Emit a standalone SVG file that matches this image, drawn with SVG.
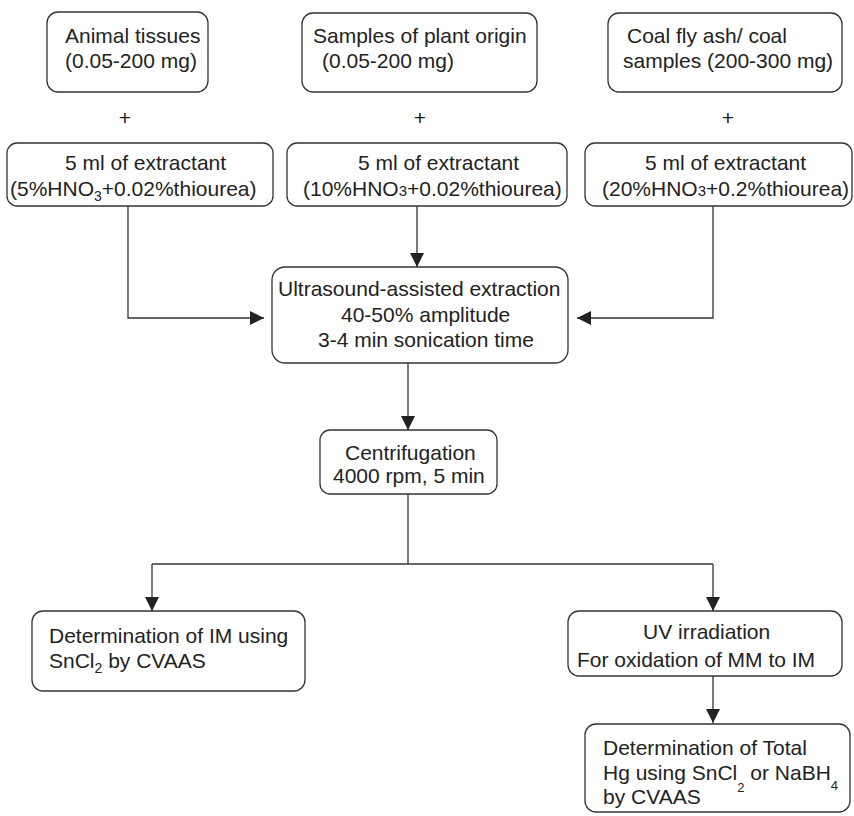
<svg xmlns="http://www.w3.org/2000/svg" width="854" height="816" viewBox="0 0 854 816">
<style>
.box{fill:#fff;stroke:#333;stroke-width:1.3}
.t{font-family:"Liberation Sans",Arial,sans-serif;font-size:21px;fill:#222}
.c{fill:none;stroke:#333;stroke-width:1.3}
</style>
<defs>
<marker id="ah" markerUnits="userSpaceOnUse" markerWidth="14" markerHeight="14" refX="14" refY="7" orient="auto">
<path d="M0,0 L14,7 L0,14 z" fill="#222"/>
</marker>
</defs>
<rect width="854" height="816" fill="#fff"/>
<g id="connectors">
<polyline class="c" points="128,206 128,318 264,318" marker-end="url(#ah)"/>
<line class="c" x1="417" y1="206" x2="417" y2="267" marker-end="url(#ah)"/>
<polyline class="c" points="713,206 713,318 577,318" marker-end="url(#ah)"/>
<line class="c" x1="408" y1="363" x2="408" y2="430" marker-end="url(#ah)"/>
<line class="c" x1="408" y1="494" x2="408" y2="564"/>
<polyline class="c" points="152,564 713,564"/>
<line class="c" x1="152" y1="564" x2="152" y2="611" marker-end="url(#ah)"/>
<line class="c" x1="713" y1="564" x2="713" y2="611" marker-end="url(#ah)"/>
<line class="c" x1="713" y1="676" x2="713" y2="723" marker-end="url(#ah)"/>
</g>
<g id="animal">
<rect class="box" x="47" y="12" width="161" height="80" rx="11"/>
<text class="t" x="65" y="43">Animal tissues</text>
<text class="t" x="65" y="68">(0.05-200 mg)</text>
</g>
<g id="plant">
<rect class="box" x="302" y="13" width="235" height="79" rx="11"/>
<text class="t" x="313" y="43">Samples of plant origin</text>
<text class="t" x="322" y="68">(0.05-200 mg)</text>
</g>
<g id="coal">
<rect class="box" x="608" y="13" width="234" height="79" rx="11"/>
<text class="t" x="627" y="43">Coal fly ash/ coal</text>
<text class="t" x="623" y="68">samples (200-300 mg)</text>
</g>
<g id="plus">
<text class="t" x="125" y="125" text-anchor="middle">+</text>
<text class="t" x="420" y="125" text-anchor="middle">+</text>
<text class="t" x="728" y="125" text-anchor="middle">+</text>
</g>
<g id="ext1">
<rect class="box" x="7" y="143" width="266" height="63" rx="10"/>
<text class="t" x="65" y="170">5 ml of extractant</text>
<text class="t" x="10" y="196">(5%HNO<tspan font-size="14" dy="5">3</tspan><tspan dy="-5">+0.02%thiourea)</tspan></text>
</g>
<g id="ext2">
<rect class="box" x="287" y="143" width="280" height="63" rx="10"/>
<text class="t" x="358" y="170">5 ml of extractant</text>
<text class="t" x="303" y="196">(10%HNO<tspan font-size="15">3</tspan>+0.02%thiourea)</text>
</g>
<g id="ext3">
<rect class="box" x="585" y="143" width="267" height="63" rx="10"/>
<text class="t" x="645" y="170">5 ml of extractant</text>
<text class="t" x="602" y="196">(20%HNO<tspan font-size="15">3</tspan>+0.2%thiourea)</text>
</g>
<g id="ultrasound">
<rect class="box" x="272" y="267" width="296" height="96" rx="13"/>
<text class="t" x="278" y="296">Ultrasound-assisted extraction</text>
<text class="t" x="341" y="322">40-50% amplitude</text>
<text class="t" x="318" y="347">3-4 min sonication time</text>
</g>
<g id="centrifugation">
<rect class="box" x="320" y="430" width="177" height="64" rx="10"/>
<text class="t" x="345" y="460">Centrifugation</text>
<text class="t" x="333" y="483">4000 rpm, 5 min</text>
</g>
<g id="det-im">
<rect class="box" x="32" y="611" width="273" height="80" rx="11"/>
<text class="t" x="49" y="643">Determination of IM using</text>
<text class="t" x="49" y="668">SnCl<tspan font-size="14" dy="5">2</tspan><tspan dy="-5"> by CVAAS</tspan></text>
</g>
<g id="uv">
<rect class="box" x="568" y="611" width="274" height="65" rx="11"/>
<text class="t" x="643" y="639">UV irradiation</text>
<text class="t" x="577" y="667">For oxidation of MM to IM</text>
</g>
<g id="det-total">
<rect class="box" x="585" y="724" width="265" height="88" rx="11"/>
<text class="t" x="603" y="755">Determination of Total</text>
<text class="t" x="603" y="780">Hg using SnCl<tspan font-size="13" dy="12">2</tspan><tspan dy="-12"> or NaBH</tspan><tspan font-size="13" dy="10">4</tspan></text>
<text class="t" x="603" y="804">by CVAAS</text>
</g>
</svg>
